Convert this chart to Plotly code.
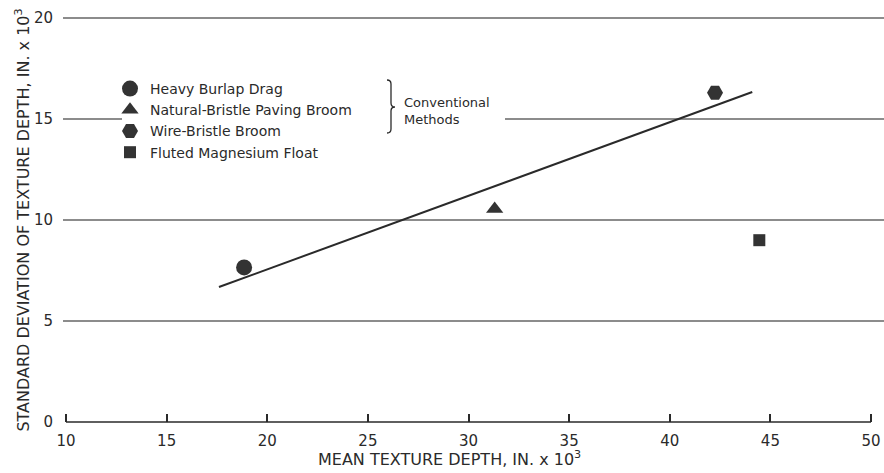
import plotly.graph_objects as go

# ---- data ----
METHODS = ["Heavy Burlap Drag", "Natural-Bristle Paving Broom",
           "Wire-Bristle Broom", "Fluted Magnesium Float"]
MEAN_DEPTH = [18.85, 31.3, 42.25, 44.45]
STD_DEPTH = [7.65, 10.55, 16.3, 9.0]
SYMBOLS = ["circle", "triangle-up", "hexagon2", "square"]
SIZES = [16, 15, 16, 12]

FIT_X = [17.6, 44.1]
FIT_Y = [6.68, 16.34]

X_TICKS = [10, 15, 20, 25, 30, 35, 40, 45, 50]
Y_TICKS = [0, 5, 10, 15, 20]
GRID_Y = [5, 10, 15, 20]

W, H = 884, 473
ML, MR, MT, MB = 63, 0, 8, 41
PW, PH = W - ML - MR, H - MT - MB

def px2paper(px, py):
    return (px - ML) / PW, (H - MB - py) / PH

INK = "#2a2a2a"
FONT = "DejaVu Sans"

fig = go.Figure()

for name, x, y, sym, sz in zip(METHODS, MEAN_DEPTH, STD_DEPTH, SYMBOLS, SIZES):
    fig.add_trace(go.Scatter(
        x=[x], y=[y], mode="markers", name=name,
        marker=dict(symbol=sym, size=sz, color="#333333", line=dict(width=0)),
    ))

fig.add_trace(go.Scatter(x=FIT_X, y=FIT_Y, mode="lines", showlegend=False,
                         line=dict(color=INK, width=2)))

shapes = []
for g in GRID_Y:
    shapes.append(dict(type="line", xref="paper", yref="y", x0=0, x1=1, y0=g, y1=g,
                       line=dict(color="#666666", width=1.5), layer="below"))
# x axis baseline spanning tick range
shapes.append(dict(type="line", xref="x", yref="y", x0=X_TICKS[0], x1=X_TICKS[-1],
                   y0=0, y1=0, line=dict(color=INK, width=1.5), layer="above"))
# white panel behind legend block
a = px2paper(122, 72)
b = px2paper(505, 165)
shapes.append(dict(type="rect", xref="paper", yref="paper", x0=a[0], x1=b[0],
                   y0=b[1], y1=a[1], fillcolor="white", line=dict(width=0), layer="below"))
# brace
pts = [(387, 80), (391, 84), (391, 103), (395, 107), (391, 111), (391, 129), (387, 133)]
pp = [px2paper(*p) for p in pts]
path = "M {:.5f},{:.5f} Q {:.5f},{:.5f} {:.5f},{:.5f} L {:.5f},{:.5f} Q {:.5f},{:.5f} {:.5f},{:.5f} " \
       "Q {:.5f},{:.5f} {:.5f},{:.5f} L {:.5f},{:.5f} Q {:.5f},{:.5f} {:.5f},{:.5f}".format(
    pp[0][0], pp[0][1],
    pp[1][0], pp[0][1], pp[1][0], pp[1][1],
    pp[2][0], pp[2][1],
    pp[2][0], pp[3][1], pp[3][0], pp[3][1],
    pp[4][0], pp[3][1], pp[4][0], pp[4][1],
    pp[5][0], pp[5][1],
    pp[5][0], pp[6][1], pp[6][0], pp[6][1])
shapes.append(dict(type="path", xref="paper", yref="paper", path=path,
                   line=dict(color=INK, width=1.3)))

cm = px2paper(402, 111)
xt = px2paper(449, 458)
annotations = [
    dict(text="Conventional<br>Methods", xref="paper", yref="paper", x=cm[0], y=cm[1],
         xanchor="left", yanchor="middle", align="left", showarrow=False,
         font=dict(family=FONT, size=13, color=INK)),
    dict(text="MEAN TEXTURE DEPTH, IN. x 10<sup>3</sup>", xref="paper", yref="paper",
         x=xt[0], y=xt[1], xanchor="center", yanchor="middle", showarrow=False,
         font=dict(family=FONT, size=16, color=INK)),
]

lg = px2paper(110, 73)
x0 = X_TICKS[0] - 3 / (805 / 40)
x1 = X_TICKS[-1] + 13 / (805 / 40)

fig.update_layout(
    width=W, height=H,
    margin=dict(l=ML, r=MR, t=MT, b=MB, pad=0),
    paper_bgcolor="white", plot_bgcolor="white",
    font=dict(family=FONT, color=INK),
    shapes=shapes, annotations=annotations,
    showlegend=True,
    legend=dict(x=lg[0], y=lg[1], xanchor="left", yanchor="top",
                bgcolor="rgba(0,0,0,0)", font=dict(family=FONT, size=14, color=INK),
                itemsizing="trace", tracegroupgap=0),
    xaxis=dict(range=[x0, x1], tickvals=X_TICKS, ticktext=[str(v) for v in X_TICKS],
               showgrid=False, zeroline=False, showline=False,
               ticks="inside", ticklen=8, tickwidth=1.5, tickcolor=INK,
               anchor="free", position=0.5 / 21, ticklabelstandoff=8,
               tickfont=dict(family=FONT, size=15, color=INK)),
    yaxis=dict(range=[-0.5, 20.5], tickvals=Y_TICKS, ticktext=[str(v) for v in Y_TICKS],
               showgrid=False, zeroline=False, showline=False, ticks="",
               ticklabelstandoff=9,
               tickfont=dict(family=FONT, size=15, color=INK),
               title=dict(text="STANDARD DEVIATION OF TEXTURE DEPTH, IN. x 10<sup>3</sup>",
                          font=dict(family=FONT, size=16, color=INK), standoff=0)),
)

fig.write_html("out.html")
